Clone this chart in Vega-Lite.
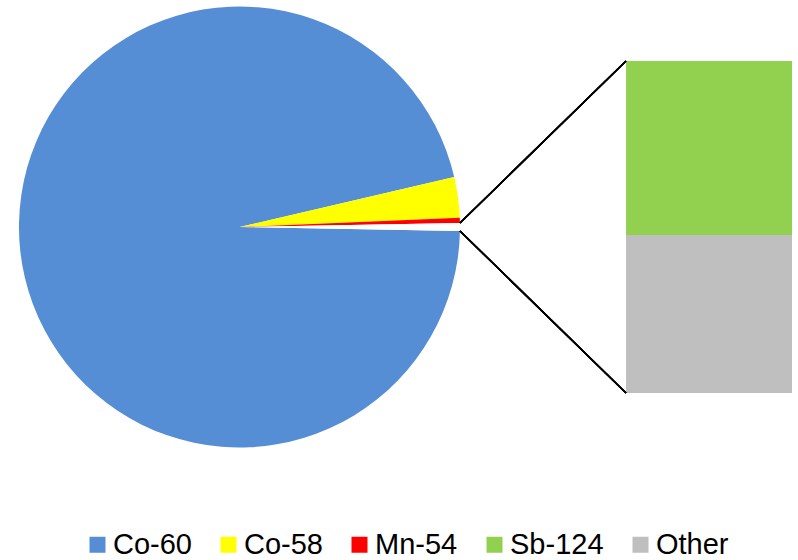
{
  "$schema": "https://vega.github.io/schema/vega-lite/v6.json",
  "width": 798,
  "height": 560,
  "autosize": {"type": "none"},
  "padding": 0,
  "background": "white",
  "config": {"view": {"stroke": null}},
  "data": {
    "values": [
      {"isotope": "Co-60", "value": 96.07, "idx": 1},
      {"isotope": "Co-58", "value": 2.98, "idx": 2},
      {"isotope": "Mn-54", "value": 0.37, "idx": 3},
      {"isotope": "Sb-124", "value": 0.304, "idx": 4},
      {"isotope": "Other", "value": 0.276, "idx": 5}
    ]
  },
  "resolve": {"scale": {"y": "independent"}},
  "layer": [
    {
      "mark": {"type": "arc", "radius": 220.5},
      "encoding": {
        "x": {"datum": 30.01, "type": "quantitative", "scale": {"domain": [0, 100], "nice": false, "zero": false}, "axis": null},
        "y": {"datum": 59.46, "type": "quantitative", "scale": {"domain": [0, 100], "nice": false, "zero": false}, "axis": null},
        "theta": {"field": "value", "type": "quantitative", "stack": true, "scale": {"domain": [0, 100], "range": [1.589, 7.872]}},
        "order": {"field": "idx", "type": "quantitative"},
        "color": {
          "condition": {"test": "datum.isotope === 'Sb-124' || datum.isotope === 'Other'", "value": "#ffffff"},
          "field": "isotope",
          "type": "nominal",
          "scale": {
            "domain": ["Co-60", "Co-58", "Mn-54", "Sb-124", "Other"],
            "range": ["#558ED5", "#FFFF00", "#FF0000", "#92D050", "#BFBFBF"]
          },
          "legend": {
            "title": null,
            "orient": "none",
            "direction": "horizontal",
            "legendX": 83,
            "legendY": 530,
            "padding": 0,
            "symbolType": "square",
            "symbolSize": 256,
            "symbolStrokeWidth": 0,
            "symbolOpacity": 1,
            "labelFont": "Liberation Sans",
            "labelFontSize": 29,
            "labelColor": "black",
            "labelOffset": 1,
            "columnPadding": 22,
            "labelLimit": 300
          }
        }
      }
    },
    {
      "transform": [
        {"filter": "datum.isotope === 'Sb-124' || datum.isotope === 'Other'"},
        {"stack": "value", "groupby": [], "sort": [{"field": "isotope", "order": "ascending"}], "as": ["v0", "v1"]}
      ],
      "mark": {"type": "rect"},
      "encoding": {
        "x": {"datum": 78.45, "type": "quantitative", "scale": {"domain": [0, 100], "nice": false, "zero": false}, "axis": null},
        "x2": {"datum": 99.25},
        "y": {"field": "v0", "type": "quantitative", "scale": {"domain": [-0.29174, 0.68657], "nice": false, "zero": false}, "axis": null},
        "y2": {"field": "v1"},
        "color": {"field": "isotope", "type": "nominal"}
      }
    },
    {
      "mark": {"type": "rule", "color": "black", "strokeWidth": 1.5},
      "encoding": {
        "x": {"datum": 57.64, "type": "quantitative", "scale": {"domain": [0, 100], "nice": false, "zero": false}, "axis": null},
        "y": {"datum": 60.18, "type": "quantitative", "scale": {"domain": [0, 100], "nice": false, "zero": false}, "axis": null},
        "x2": {"datum": 78.45},
        "y2": {"datum": 89.11}
      }
    },
    {
      "mark": {"type": "rule", "color": "black", "strokeWidth": 1.5},
      "encoding": {
        "x": {"datum": 57.64, "type": "quantitative", "scale": {"domain": [0, 100], "nice": false, "zero": false}, "axis": null},
        "y": {"datum": 58.75, "type": "quantitative", "scale": {"domain": [0, 100], "nice": false, "zero": false}, "axis": null},
        "x2": {"datum": 78.45},
        "y2": {"datum": 29.82}
      }
    }
  ]
}
